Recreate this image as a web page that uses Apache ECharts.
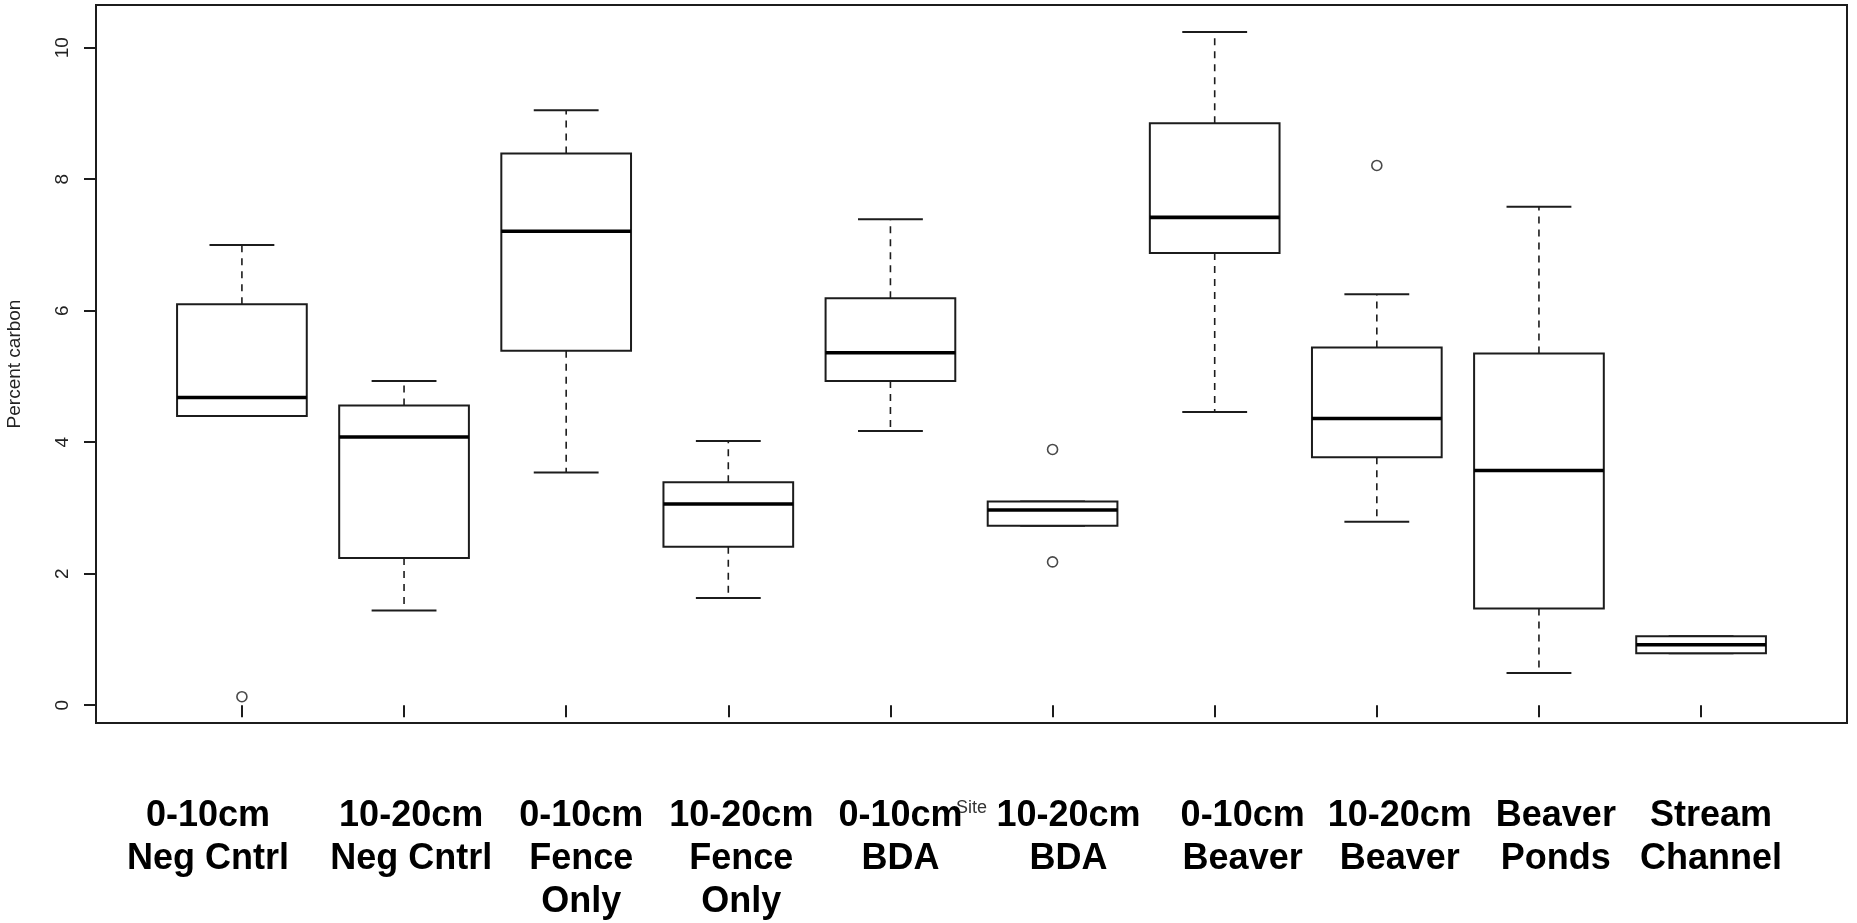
<!DOCTYPE html>
<html>
<head>
<meta charset="utf-8">
<title>Percent carbon by site</title>
<script src="https://cdn.jsdelivr.net/npm/echarts@6/dist/echarts.min.js"></script>
<style>
  html, body { margin: 0; padding: 0; background: #fff; }
  #chart { width: 1857px; height: 923px; }
</style>
</head>
<body>
<div id="chart"></div>
<script>
// sites on the x axis
var sites = ['0-10cm\nNeg Cntrl', '10-20cm\nNeg Cntrl', '0-10cm\nFence\nOnly', '10-20cm\nFence\nOnly',
  '0-10cm\nBDA', '10-20cm\nBDA', '0-10cm\nBeaver', '10-20cm\nBeaver', 'Beaver\nPonds', 'Stream\nChannel'];

// box stats (percent carbon)
var whiskerLow  = [4.40, 1.44, 3.54, 1.63, 4.17, 2.73, 4.46, 2.79, 0.49, 0.79];
var quart1      = [4.40, 2.24, 5.39, 2.41, 4.93, 2.73, 6.88, 3.77, 1.47, 0.79];
var medians     = [4.68, 4.08, 7.21, 3.06, 5.36, 2.97, 7.42, 4.36, 3.57, 0.92];
var quart3      = [6.10, 4.56, 8.39, 3.39, 6.19, 3.10, 8.85, 5.44, 5.35, 1.05];
var whiskerHigh = [7.00, 4.93, 9.05, 4.02, 7.39, 3.10, 10.24, 6.25, 7.58, 1.05];

// outliers: [site number, value]
var outliers = [[1, 0.13], [6, 3.89], [6, 2.18], [8, 8.21]];

var yTicks = [0, 2, 4, 6, 8, 10];

// the site labels were pasted under the plot by hand, a bit off the ticks (px)
var labelNudge = [-34, 7, 15, 13, 10, 16, 28, 23, 17, 10];

var siteNums = sites.map(function (s, i) { return i + 1; });
var boxData = sites.map(function (s, i) {
  return [i + 1, whiskerLow[i], quart1[i], medians[i], quart3[i], whiskerHigh[i]];
});

var ink = '#1c1c1c';

function renderBox(params, api) {
  var x = api.value(0);
  var lo = api.coord([x, api.value(1)]);
  var q1 = api.coord([x, api.value(2)]);
  var md = api.coord([x, api.value(3)]);
  var q3 = api.coord([x, api.value(4)]);
  var hi = api.coord([x, api.value(5)]);
  var boxW = api.size([0.8, 0])[0];
  var capW = api.size([0.4, 0])[0];
  var cx = md[0];
  var dash = { stroke: ink, lineWidth: 1.6, lineDash: [7, 6] };
  var solid = { stroke: ink, lineWidth: 2 };
  return {
    type: 'group',
    children: [
      { type: 'line', shape: { x1: cx, y1: q3[1], x2: cx, y2: hi[1] }, style: dash },
      { type: 'line', shape: { x1: cx, y1: q1[1], x2: cx, y2: lo[1] }, style: dash },
      { type: 'line', shape: { x1: cx - capW / 2, y1: hi[1], x2: cx + capW / 2, y2: hi[1] }, style: solid },
      { type: 'line', shape: { x1: cx - capW / 2, y1: lo[1], x2: cx + capW / 2, y2: lo[1] }, style: solid },
      { type: 'rect', shape: { x: cx - boxW / 2, y: q3[1], width: boxW, height: q1[1] - q3[1] },
        style: { fill: '#fff', stroke: ink, lineWidth: 2 } },
      { type: 'line', shape: { x1: cx - boxW / 2, y1: md[1], x2: cx + boxW / 2, y2: md[1] },
        style: { stroke: '#000', lineWidth: 3.6 } }
    ]
  };
}

var rich = {};
labelNudge.forEach(function (d, i) {
  rich['s' + i] = {
    fontFamily: 'Liberation Sans, Arial, sans-serif',
    fontSize: 36,
    fontWeight: 'bold',
    color: '#000',
    lineHeight: 43,
    padding: d > 0 ? [0, 0, 0, 2 * d] : [0, -2 * d, 0, 0]
  };
});

var myChart = echarts.init(document.getElementById('chart'));
var option = {
  animation: false,
  backgroundColor: '#fff',
  grid: [
    {
      // plot frame: x runs 0.1 .. 10.9 like R's boxplot
      left: 96, right: 10, top: 5, bottom: 200,
      show: true, borderColor: ink, borderWidth: 2,
      outerBoundsMode: 'none'
    },
    {
      // label strip: one band per site, centred on the site ticks above
      left: 161, right: 75, top: 5, bottom: 200,
      show: false,
      outerBoundsMode: 'none'
    }
  ],
  xAxis: [
    {
      type: 'value',
      gridIndex: 0,
      min: 0.1,
      max: 10.9,
      name: 'Site',
      nameLocation: 'middle',
      nameGap: 76,
      nameMoveOverlap: false,
      nameTextStyle: { fontFamily: 'Liberation Sans, Arial, sans-serif', fontSize: 18, color: '#333' },
      axisLine: { show: false },
      splitLine: { show: false },
      axisTick: { show: true, length: 12, customValues: siteNums, lineStyle: { color: ink, width: 2 } },
      axisLabel: { show: false }
    },
    {
      type: 'category',
      gridIndex: 1,
      data: sites,
      axisLine: { show: false },
      axisTick: { show: false },
      splitLine: { show: false },
      axisLabel: {
        interval: 0,
        margin: 72,
        hideOverlap: false,
        formatter: function (v, idx) {
          return v.split('\n').map(function (l) { return '{s' + idx + '|' + l + '}'; }).join('\n');
        },
        rich: rich
      }
    }
  ],
  yAxis: [
    {
      type: 'value',
      gridIndex: 0,
      min: -0.27,
      max: 10.65,
      name: 'Percent carbon',
      nameLocation: 'middle',
      nameGap: 72,
      nameMoveOverlap: false,
      nameTextStyle: { fontFamily: 'Liberation Sans, Arial, sans-serif', fontSize: 19, color: '#222' },
      axisLine: { show: false },
      splitLine: { show: false },
      axisTick: { show: true, length: 12, customValues: yTicks, lineStyle: { color: ink, width: 2 } },
      axisLabel: {
        customValues: yTicks,
        rotate: 90,
        margin: 24,
        showMinLabel: true,
        showMaxLabel: true,
        fontFamily: 'Liberation Sans, Arial, sans-serif',
        fontSize: 19,
        color: '#222'
      }
    },
    { type: 'value', gridIndex: 1, show: false }
  ],
  series: [
    {
      type: 'custom',
      xAxisIndex: 0,
      yAxisIndex: 0,
      renderItem: renderBox,
      data: boxData,
      encode: { x: 0, y: [1, 2, 3, 4, 5] },
      z: 2
    },
    {
      type: 'scatter',
      xAxisIndex: 0,
      yAxisIndex: 0,
      data: outliers,
      symbol: 'circle',
      symbolSize: 10,
      itemStyle: { color: '#fff', borderColor: ink, borderWidth: 1.6 },
      z: 3
    }
  ]
};
myChart.setOption(option);
</script>
</body>
</html>
